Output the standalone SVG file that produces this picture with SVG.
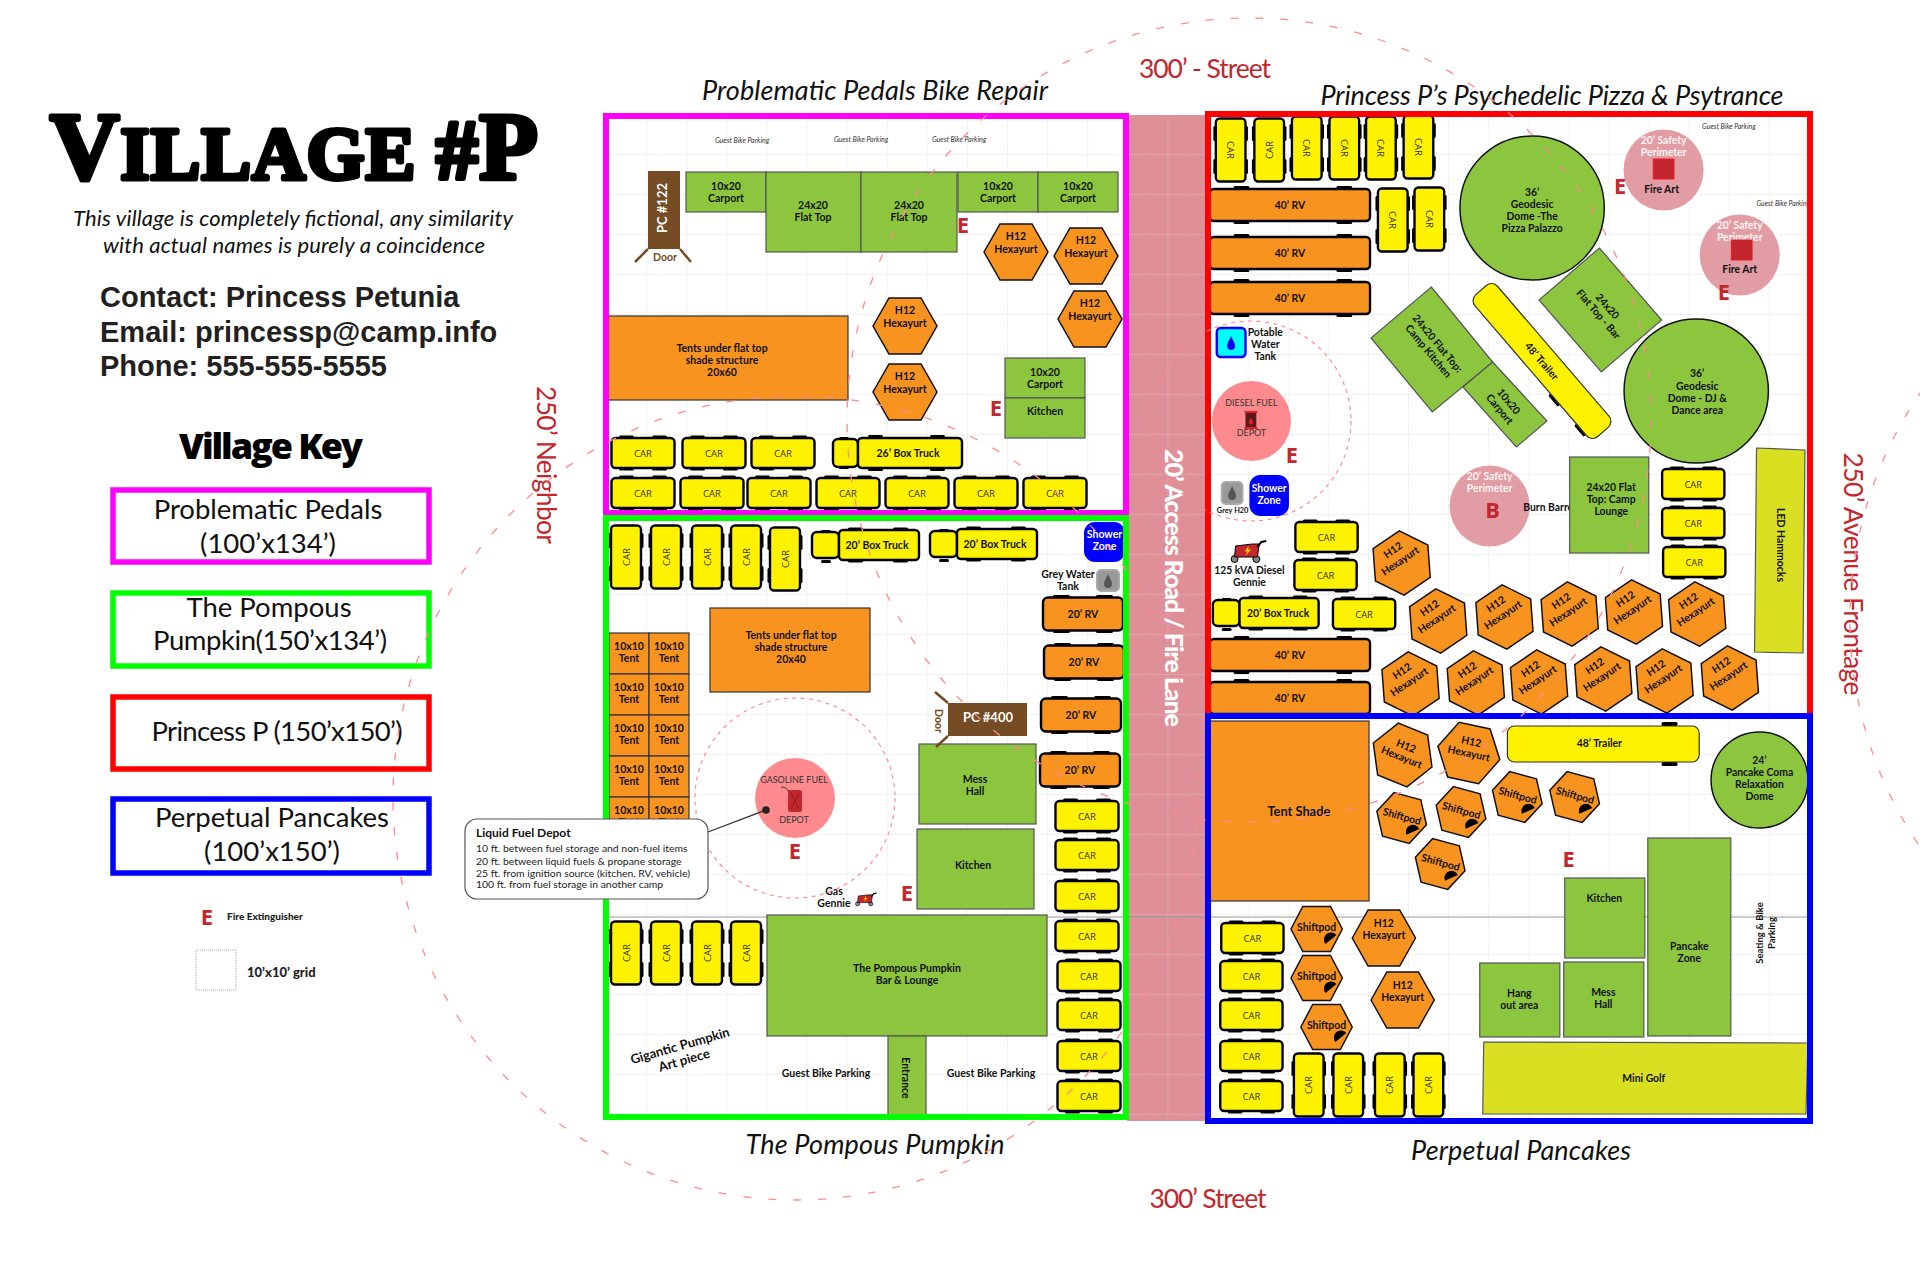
<svg xmlns="http://www.w3.org/2000/svg" width="1920" height="1273" viewBox="0 0 1920 1273">
<style>
text{font-family:Lato,"Open Sans","Liberation Sans",sans-serif}
.l{font-size:10.5px;font-weight:700;text-anchor:middle;dominant-baseline:central;fill:#111}
.car{font-size:9.5px;text-anchor:middle;dominant-baseline:central;fill:#333;font-family:"Open Sans",sans-serif}
.w{fill:#fff}
.p{fill:#fff;font-size:10.5px;text-anchor:middle;dominant-baseline:central;font-weight:700;opacity:.9}
.e{font-size:22px;font-weight:700;fill:#c1272d;text-anchor:middle;dominant-baseline:central;font-family:"Open Sans",sans-serif}
.t{font-size:27px;font-style:italic;text-anchor:middle;fill:#111}
.s{font-size:26.5px;fill:#c1272d;text-anchor:middle}
.k{font-size:27.5px;text-anchor:middle;fill:#111}
.c{font-family:"Liberation Sans",sans-serif;font-weight:700;font-size:29px;fill:#231f20}
.g{fill:#8cc63f;stroke:#555;stroke-width:1.2}
.o{fill:#f7931e;stroke:#333;stroke-width:1.2}
.ol{fill:#d9e021;stroke:#555;stroke-width:1.2}
.box{fill:none;stroke-width:6}
.kb{fill:none;stroke-width:5.5}
.tiny{font-size:7px;font-style:italic;text-anchor:middle;dominant-baseline:central;fill:#333}
.d{font-size:9px;text-anchor:middle;dominant-baseline:central;fill:#333}
.big{fill:none;stroke:#ff8a8d;stroke-width:1.3;stroke-dasharray:8 17}
.sm{fill:none;stroke:#ff8a8d;stroke-width:1.2;stroke-dasharray:4 4.5}
.z{fill:#0000ff}
.sh{fill:#df8f97}
.pm{fill:#e29ca3}
.dep{fill:#ff8a8d}
.ti{fill:#000}
.y{fill:#fff200;stroke:#000;stroke-width:2.4}
.r{fill:#f7931e;stroke:#000;stroke-width:2.4}
.br{fill:#754c24}
.brl{fill:none;stroke:#754c24;stroke-width:2.5}
.fu{font-size:10.4px;fill:#222}
</style>
<defs>
<pattern id="gridp" x="606" y="114" width="40.1" height="40" patternUnits="userSpaceOnUse"><path d="M0 0H40.1M0 0V40" fill="none" stroke="#d4d4d4" stroke-width="1" stroke-dasharray="1.5 1"/></pattern>
<g id="tc"><rect x="-24" y="-17.5" width="15" height="4" rx="1.5" class="ti"/><rect x="9" y="-17.5" width="15" height="4" rx="1.5" class="ti"/><rect x="-24" y="13.5" width="15" height="4" rx="1.5" class="ti"/><rect x="9" y="13.5" width="15" height="4" rx="1.5" class="ti"/><rect x="-31.5" y="-15" width="63" height="30" rx="4" class="y"/></g>
<use id="tv" href="#tc" transform="rotate(90)"/>
<g id="rv20"><rect x="-30" y="-19" width="17" height="4" rx="1.5" class="ti"/><rect x="13" y="-19" width="17" height="4" rx="1.5" class="ti"/><rect x="-30" y="15" width="17" height="4" rx="1.5" class="ti"/><rect x="13" y="15" width="17" height="4" rx="1.5" class="ti"/><rect x="-40" y="-16.5" width="80" height="33" rx="5" class="r"/></g>
<g id="rv40"><rect x="-57" y="-19" width="16" height="4" rx="1.5" class="ti"/><rect x="47" y="-19" width="16" height="4" rx="1.5" class="ti"/><rect x="-57" y="15" width="16" height="4" rx="1.5" class="ti"/><rect x="47" y="15" width="16" height="4" rx="1.5" class="ti"/><rect x="-81" y="-16" width="162" height="32" rx="4" class="r"/></g>
<g id="tr20"><rect x="-31" y="-17.5" width="15" height="4" rx="1.5" class="ti"/><rect x="14" y="-17.5" width="15" height="4" rx="1.5" class="ti"/><rect x="-31" y="13.5" width="15" height="4" rx="1.5" class="ti"/><rect x="14" y="13.5" width="15" height="4" rx="1.5" class="ti"/><rect x="-58" y="15" width="10" height="3" rx="1.5" class="ti"/><rect x="-58" y="-15" width="10" height="3" rx="1.5" class="ti"/><rect x="-67" y="-13" width="27" height="26" rx="5" class="y"/><rect x="-40" y="-15" width="80" height="30" rx="4" class="y"/></g>
<g id="tr26"><rect x="-42" y="-18" width="15" height="4" rx="1.5" class="ti"/><rect x="20" y="-18" width="15" height="4" rx="1.5" class="ti"/><rect x="-42" y="14" width="15" height="4" rx="1.5" class="ti"/><rect x="20" y="14" width="15" height="4" rx="1.5" class="ti"/><rect x="-71" y="12" width="10" height="4" rx="1.5" class="ti"/><rect x="-71" y="-16" width="10" height="4" rx="1.5" class="ti"/><rect x="-77" y="-14" width="25" height="28" rx="5" class="y"/><rect x="-52" y="-15" width="104" height="30" rx="4" class="y"/></g>
<polygon id="hex" points="-32,0 -16,-28 16,-28 32,0 16,28 -16,28" class="o" style="stroke:#111;stroke-width:1.5"/>
<g id="pod"><polygon points="-26,0 -14,-22.5 14,-22.5 26,0 14,22.5 -14,22.5" class="o" style="stroke:#111;stroke-width:1.5"/><path d="M9 15A6 6 0 1 1 20 6Z" fill="#000"/></g>
<path id="drop" d="M0-7C2-2 4 0 4 3A4 4 0 0 1-4 3C-4 0-2-2 0-7Z"/>
<g id="gen"><circle cx="-14" cy="8" r="3.5" fill="#888" stroke="#000"/><circle cx="8" cy="8" r="3.5" fill="#888" stroke="#000"/><path d="M-13-5L4-7 11-7 9 6-14 6Z" fill="#c1272d" stroke="#000"/><path d="M9-4L13-9 18-10" fill="none" stroke="#000" stroke-width="2"/><path d="M0-5L-4 1-1 0-3 5 3-2 0-1Z" fill="#fc0"/></g>
<g id="fa"><rect x="-10.5" y="-10" width="21" height="20" fill="#c1272d" stroke="#ed1c24"/></g>
</defs>
<rect width="1920" height="1273" fill="#fff"/>

<g id="base">
<rect class="sh" x="1127" y="115" width="78" height="1006"/>
<rect x="606" y="116" width="1204" height="1002" fill="url(#gridp)"/>
<path d="M606 917H1810" stroke="#999" stroke-width="1"/>
</g>

<g id="legend">
<text id="title" x="50" y="179" fill="#000" stroke="#000" stroke-width="5" stroke-linejoin="round" textLength="488" lengthAdjust="spacing" style="font-family:'Liberation Serif',serif;font-weight:700"><tspan font-size="96">V</tspan><tspan font-size="74">ILLAGE </tspan><tspan font-size="84">#</tspan><tspan font-size="96">P</tspan></text>
<text x="293" y="226" font-size="22" font-style="italic" text-anchor="middle" fill="#111" textLength="440">This village is completely fictional, any similarity</text>
<text x="294" y="253" font-size="22" font-style="italic" text-anchor="middle" fill="#111" textLength="382">with actual names is purely a coincidence</text>
<text class="c" x="100" y="307">Contact: Princess Petunia</text>
<text class="c" x="100" y="342">Email: princessp@camp.info</text>
<text class="c" x="100" y="376">Phone: 555-555-5555</text>
<text x="271" y="459" font-size="36" font-weight="900" text-anchor="middle" fill="#000" style="font-family:'Open Sans',sans-serif" textLength="184">Village Key</text>
<g id="key-pedals"><rect class="kb" x="113" y="490" width="316" height="72" stroke="#ff00ff"/><text class="k" x="268" y="519">Problematic Pedals</text><text class="k" x="268" y="553">(100’x134’)</text></g>
<g id="key-pumpkin"><rect class="kb" x="113" y="593" width="316" height="73" stroke="#00ff00"/><text class="k" x="269" y="617">The Pompous</text><text class="k" x="270" y="650" textLength="234">Pumpkin(150’x134’)</text></g>
<g id="key-princess"><rect class="kb" x="113" y="697" width="316" height="72" stroke="#ff0000"/><text class="k" x="277" y="741" textLength="251">Princess P (150’x150’)</text></g>
<g id="key-pancakes"><rect class="kb" x="113" y="799" width="316" height="74" stroke="#0000ff"/><text class="k" x="272" y="827">Perpetual Pancakes</text><text class="k" x="272" y="861">(100’x150’)</text></g>
<g id="key-ext"><text class="e" x="207" y="916">E</text><text x="227" y="920" font-size="10" font-weight="900" fill="#222">Fire Extinguisher</text></g>
<g id="key-grid"><rect x="196" y="950" width="40" height="40" fill="none" stroke="#aaa" stroke-dasharray="1 1"/><text x="247" y="977" font-size="13" font-weight="900" fill="#222">10’x10’ grid</text></g>
</g>

<g id="labels">
<text class="t" x="875" y="100" textLength="346">Problematic Pedals Bike Repair</text>
<text class="t" x="1552" y="105" textLength="463">Princess P’s Psychedelic Pizza &amp; Psytrance</text>
<text class="t" x="875" y="1154" textLength="259">The Pompous Pumpkin</text>
<text class="t" x="1521" y="1160" textLength="220">Perpetual Pancakes</text>
<text class="s" x="1205" y="78" textLength="132">300’ - Street</text>
<text class="s" x="1208" y="1208" textLength="117">300’ Street</text>
<text class="s" transform="translate(537 465) rotate(90)" textLength="158">250’ Neighbor</text>
<text class="s" transform="translate(1844 574) rotate(90)" textLength="243">250’ Avenue Frontage</text>
<text transform="translate(1165 588) rotate(90)" font-size="25" font-weight="900" fill="#fff" text-anchor="middle" textLength="278">20’ Access Road / Fire Lane</text>
</g>

<g id="pedals">
<text class="tiny" x="742" y="140">Guest Bike Parking</text><text class="tiny" x="861" y="139">Guest Bike Parking</text><text class="tiny" x="959" y="139">Guest Bike Parking</text>
<g id="pc122"><rect class="br" x="648" y="171" width="32" height="78"/><path class="brl" d="M648 249L635 262M680 249L691 262"/><text class="l w" transform="translate(662 208) rotate(-90)" style="font-size:13px;fill:#fff">PC #122</text><text class="l" x="665" y="257" style="fill:#754c24">Door</text></g>
<g id="carport1"><rect class="g" x="686" y="172" width="80" height="40"/><text class="l" x="726" y="186">10x20</text><text class="l" x="726" y="198">Carport</text></g>
<g id="flat1"><rect class="g" x="766" y="172" width="95" height="80"/><text class="l" x="813" y="205">24x20</text><text class="l" x="813" y="217">Flat Top</text></g>
<g id="flat2"><rect class="g" x="861" y="172" width="96" height="80"/><text class="l" x="909" y="205">24x20</text><text class="l" x="909" y="217">Flat Top</text></g>
<g id="carport2"><rect class="g" x="958" y="172" width="80" height="40"/><text class="l" x="998" y="186">10x20</text><text class="l" x="998" y="198">Carport</text></g>
<g id="carport3"><rect class="g" x="1038" y="172" width="80" height="40"/><text class="l" x="1078" y="186">10x20</text><text class="l" x="1078" y="198">Carport</text></g>
<text class="e" x="963" y="224">E</text>
<g id="hp1" transform="translate(1016 252)"><use href="#hex"/><text class="l" y="-16">H12</text><text class="l" y="-3">Hexayurt</text></g>
<g id="hp2" transform="translate(1086 256)"><use href="#hex"/><text class="l" y="-16">H12</text><text class="l" y="-3">Hexayurt</text></g>
<g id="hp3" transform="translate(1090 319)"><use href="#hex"/><text class="l" y="-16">H12</text><text class="l" y="-3">Hexayurt</text></g>
<g id="hp4" transform="translate(905 326)"><use href="#hex"/><text class="l" y="-16">H12</text><text class="l" y="-3">Hexayurt</text></g>
<g id="hp5" transform="translate(905 392)"><use href="#hex"/><text class="l" y="-16">H12</text><text class="l" y="-3">Hexayurt</text></g>
<g id="tents60"><rect class="o" x="607" y="316" width="241" height="84"/><text class="l" x="722" y="348">Tents under flat top</text><text class="l" x="722" y="360">shade structure</text><text class="l" x="722" y="372">20x60</text></g>
<g id="carport4"><rect class="g" x="1005" y="358" width="80" height="40"/><text class="l" x="1045" y="372">10x20</text><text class="l" x="1045" y="384">Carport</text></g>
<g id="kitchen1"><rect class="g" x="1005" y="398" width="80" height="40"/><text class="l" x="1045" y="411">Kitchen</text></g>
<text class="e" x="996" y="407">E</text>
<g id="cp1" transform="translate(643 453)"><use href="#tc"/><text class="car">CAR</text></g>
<g id="cp2" transform="translate(714 453)"><use href="#tc"/><text class="car">CAR</text></g>
<g id="cp3" transform="translate(783 453)"><use href="#tc"/><text class="car">CAR</text></g>
<g id="truck26" transform="translate(910 453)"><use href="#tr26"/><text class="l" x="-2">26’ Box Truck</text></g>
<g id="cp4" transform="translate(643 493)"><use href="#tc"/><text class="car">CAR</text></g>
<g id="cp5" transform="translate(712 493)"><use href="#tc"/><text class="car">CAR</text></g>
<g id="cp6" transform="translate(779 493)"><use href="#tc"/><text class="car">CAR</text></g>
<g id="cp7" transform="translate(848 493)"><use href="#tc"/><text class="car">CAR</text></g>
<g id="cp8" transform="translate(917 493)"><use href="#tc"/><text class="car">CAR</text></g>
<g id="cp9" transform="translate(986 493)"><use href="#tc"/><text class="car">CAR</text></g>
<g id="cp10" transform="translate(1055 493)"><use href="#tc"/><text class="car">CAR</text></g>
</g>

<g id="pumpkin">
<g id="cg1" transform="translate(626 557)"><use href="#tv"/><text class="car" transform="rotate(-90)">CAR</text></g>
<g id="cg2" transform="translate(666 557)"><use href="#tv"/><text class="car" transform="rotate(-90)">CAR</text></g>
<g id="cg3" transform="translate(707 557)"><use href="#tv"/><text class="car" transform="rotate(-90)">CAR</text></g>
<g id="cg4" transform="translate(746 557)"><use href="#tv"/><text class="car" transform="rotate(-90)">CAR</text></g>
<g id="cg5" transform="translate(785 559)"><use href="#tv"/><text class="car" transform="rotate(-90)">CAR</text></g>
<g id="truck1" transform="translate(879 545)"><use href="#tr20"/><text class="l" x="-2">20’ Box Truck</text></g>
<g id="truck2" transform="translate(997 544)"><use href="#tr20"/><text class="l" x="-2">20’ Box Truck</text></g>
<g id="shower1"><rect class="z" x="1084" y="522" width="41" height="40" rx="11"/><text class="l" x="1104.5" y="534" style="fill:#fff">Shower</text><text class="l" x="1104.5" y="546" style="fill:#fff">Zone</text></g>
<g id="grey1"><text class="l" x="1068" y="574">Grey Water</text><text class="l" x="1068" y="586">Tank</text><rect x="1097" y="570" width="22" height="21" rx="4" fill="#999" stroke="#aaa" stroke-width="2"/><use href="#drop" x="1108" y="581" fill="#555"/></g>
<g id="rv1" transform="translate(1083 614)"><use href="#rv20"/><text class="l">20’ RV</text></g>
<g id="rv2" transform="translate(1084 662)"><use href="#rv20"/><text class="l">20’ RV</text></g>
<g id="rv3" transform="translate(1081 715)"><use href="#rv20"/><text class="l">20’ RV</text></g>
<g id="rv4" transform="translate(1080 770)"><use href="#rv20"/><text class="l">20’ RV</text></g>
<g id="cg6" transform="translate(1087 816)"><use href="#tc"/><text class="car">CAR</text></g>
<g id="cg7" transform="translate(1087 855)"><use href="#tc"/><text class="car">CAR</text></g>
<g id="cg8" transform="translate(1087 896)"><use href="#tc"/><text class="car">CAR</text></g>
<g id="cg9" transform="translate(1087 936)"><use href="#tc"/><text class="car">CAR</text></g>
<g id="cg10" transform="translate(1089 976)"><use href="#tc"/><text class="car">CAR</text></g>
<g id="cg11" transform="translate(1089 1015)"><use href="#tc"/><text class="car">CAR</text></g>
<g id="cg12" transform="translate(1089 1056)"><use href="#tc"/><text class="car">CAR</text></g>
<g id="cg13" transform="translate(1089 1096)"><use href="#tc"/><text class="car">CAR</text></g>
<g id="tents40"><rect class="o" x="710" y="608" width="160" height="84"/><text class="l" x="791" y="635">Tents under flat top</text><text class="l" x="791" y="647">shade structure</text><text class="l" x="791" y="659">20x40</text></g>
<g id="t1"><rect class="o" x="609" y="633" width="40" height="41"/><text class="l" x="629" y="646">10x10</text><text class="l" x="629" y="658">Tent</text></g>
<g id="t2"><rect class="o" x="649" y="633" width="40" height="41"/><text class="l" x="669" y="646">10x10</text><text class="l" x="669" y="658">Tent</text></g>
<g id="t3"><rect class="o" x="609" y="674" width="40" height="41"/><text class="l" x="629" y="687">10x10</text><text class="l" x="629" y="699">Tent</text></g>
<g id="t4"><rect class="o" x="649" y="674" width="40" height="41"/><text class="l" x="669" y="687">10x10</text><text class="l" x="669" y="699">Tent</text></g>
<g id="t5"><rect class="o" x="609" y="715" width="40" height="41"/><text class="l" x="629" y="728">10x10</text><text class="l" x="629" y="740">Tent</text></g>
<g id="t6"><rect class="o" x="649" y="715" width="40" height="41"/><text class="l" x="669" y="728">10x10</text><text class="l" x="669" y="740">Tent</text></g>
<g id="t7"><rect class="o" x="609" y="756" width="40" height="41"/><text class="l" x="629" y="769">10x10</text><text class="l" x="629" y="781">Tent</text></g>
<g id="t8"><rect class="o" x="649" y="756" width="40" height="41"/><text class="l" x="669" y="769">10x10</text><text class="l" x="669" y="781">Tent</text></g>
<g id="t9"><rect class="o" x="609" y="797" width="40" height="41"/><text class="l" x="629" y="810">10x10</text><text class="l" x="629" y="822">Tent</text></g>
<g id="t10"><rect class="o" x="649" y="797" width="40" height="41"/><text class="l" x="669" y="810">10x10</text><text class="l" x="669" y="822">Tent</text></g>
<g id="gasdepot"><circle class="dep" cx="795" cy="798" r="40"/><text class="d" x="794" y="779">GASOLINE FUEL</text><text class="d" x="794" y="819">DEPOT</text><rect x="788" y="790" width="14" height="22" rx="2.5" fill="#c1272d"/><path d="M791 793L799 809M799 793L791 809" stroke="#8a1a1f" stroke-width="1"/><path d="M781 787Q787 787 789 792" fill="none" stroke="#333"/></g>
<text class="e" x="795" y="850">E</text>
<g id="mess1"><rect class="g" x="919" y="744" width="117" height="80"/><text class="l" x="975" y="779">Mess</text><text class="l" x="975" y="791">Hall</text></g>
<g id="kitchen2"><rect class="g" x="917" y="829" width="117" height="80"/><text class="l" x="973" y="865">Kitchen</text></g>
<g id="pc400"><rect class="br" x="948" y="703" width="79" height="33"/><path class="brl" d="M948 703L935 692M948 736L936 747"/><text class="l" x="988" y="717" style="font-size:13px;fill:#fff">PC #400</text><text class="l" transform="translate(939 721) rotate(90)" style="fill:#754c24">Door</text></g>
<text class="e" x="907" y="892">E</text>
<g id="gennie1"><text class="l" x="834" y="891">Gas</text><text class="l" x="834" y="903">Gennie</text><use href="#gen" transform="translate(866 899) scale(.6)"/></g>
<g id="bar"><rect class="g" x="767" y="915" width="280" height="121"/><text class="l" x="907" y="968">The Pompous Pumpkin</text><text class="l" x="907" y="980">Bar &amp; Lounge</text></g>
<g id="entrance"><rect class="g" x="888" y="1036" width="38" height="81"/><text class="l" transform="translate(906 1078) rotate(90)">Entrance</text></g>
<g id="cg14" transform="translate(626 953)"><use href="#tv"/><text class="car" transform="rotate(-90)">CAR</text></g>
<g id="cg15" transform="translate(666 953)"><use href="#tv"/><text class="car" transform="rotate(-90)">CAR</text></g>
<g id="cg16" transform="translate(707 953)"><use href="#tv"/><text class="car" transform="rotate(-90)">CAR</text></g>
<g id="cg17" transform="translate(746 953)"><use href="#tv"/><text class="car" transform="rotate(-90)">CAR</text></g>
<g id="art" transform="translate(682 1053) rotate(-16)"><text class="l" y="-8" style="font-size:13px">Gigantic Pumpkin</text><text class="l" y="7" style="font-size:13px">Art piece</text></g>
<text class="l" x="826" y="1073">Guest Bike Parking</text><text class="l" x="991" y="1073">Guest Bike Parking</text>
</g>

<g id="princess" transform="translate(1200 0) scale(.9885 1) translate(-1200 0)">
<g id="cr1" transform="translate(1231 150)"><use href="#tv"/><text class="car" transform="rotate(90)">CAR</text></g>
<g id="cr2" transform="translate(1270 150)"><use href="#tv"/><text class="car" transform="rotate(-90)">CAR</text></g>
<g id="cr3" transform="translate(1308 148)"><use href="#tv"/><text class="car" transform="rotate(90)">CAR</text></g>
<g id="cr4" transform="translate(1346 148)"><use href="#tv"/><text class="car" transform="rotate(90)">CAR</text></g>
<g id="cr5" transform="translate(1383 148)"><use href="#tv"/><text class="car" transform="rotate(90)">CAR</text></g>
<g id="cr6" transform="translate(1421 147)"><use href="#tv"/><text class="car" transform="rotate(90)">CAR</text></g>
<g id="cr7" transform="translate(1395 220)"><use href="#tv"/><text class="car" transform="rotate(90)">CAR</text></g>
<g id="cr8" transform="translate(1432 219)"><use href="#tv"/><text class="car" transform="rotate(90)">CAR</text></g>
<g id="rv5" transform="translate(1291 205)"><use href="#rv40"/><text class="l">40’ RV</text></g>
<g id="rv6" transform="translate(1291 253)"><use href="#rv40"/><text class="l">40’ RV</text></g>
<g id="rv7" transform="translate(1291 298)"><use href="#rv40"/><text class="l">40’ RV</text></g>
<g id="potable"><rect x="1217" y="328" width="29" height="29" rx="4" fill="#0ff" stroke="#00f" stroke-width="2.5"/><use href="#drop" x="1231.5" y="343" fill="#00f"/><text class="l" x="1266" y="332">Potable</text><text class="l" x="1266" y="344">Water</text><text class="l" x="1266" y="356">Tank</text></g>
<g id="dieseldepot"><circle class="dep" cx="1252" cy="421" r="40"/><text class="d" x="1252" y="402">DIESEL FUEL</text><rect x="1246" y="412" width="11" height="16" fill="#5a1a1a"/><rect x="1245" y="411" width="13" height="2" fill="#ed1c24"/><rect x="1245" y="427" width="13" height="2" fill="#ed1c24"/><use href="#drop" transform="translate(1251.5 421) scale(.5)" fill="#ed1c24"/><text class="d" x="1252" y="432">DEPOT</text></g>
<text class="e" x="1293" y="454">E</text>
<g id="dome1"><ellipse cx="1536" cy="208" rx="73" ry="72" fill="#8cc63f" stroke="#111" stroke-width="1.5"/><text class="l" x="1536" y="192">36’</text><text class="l" x="1536" y="204">Geodesic</text><text class="l" x="1536" y="216">Dome -The</text><text class="l" x="1536" y="228">Pizza Palazzo</text></g>
<g id="art1"><circle cx="1669" cy="170" r="40.5" class="pm"/><text class="p" x="1669" y="140">20’ Safety</text><text class="p" x="1669" y="152">Perimeter</text><use href="#fa" x="1669" y="169"/><text class="l" x="1667" y="189">Fire Art</text></g>
<text class="e" x="1625" y="185">E</text>
<g id="art2"><circle cx="1746" cy="255" r="40.5" class="pm"/><text class="p" x="1746" y="225">20’ Safety</text><text class="p" x="1746" y="237">Perimeter</text><use href="#fa" x="1748" y="250"/><text class="l" x="1746" y="269">Fire Art</text></g>
<text class="e" x="1730" y="291">E</text>
<text class="tiny" x="1735" y="126">Guest Bike Parking</text><text class="tiny" x="1790" y="203">Guest Bike Parking</text>
<g id="camp-kitchen"><polygon class="g" points="1434,287 1496,362 1435,412 1373,338"/><text class="l" transform="translate(1436 347) rotate(50)" y="-6">24x20 Flat Top:</text><text class="l" transform="translate(1436 347) rotate(50)" y="6">Camp Kitchen</text></g>
<g id="carport5"><polygon class="g" points="1496,362 1551,421 1520,447 1466,387"/><text class="l" transform="translate(1508 405) rotate(50)" y="-6">10x20</text><text class="l" transform="translate(1508 405) rotate(50)" y="6">Carport</text></g>
<g id="trailer1" transform="translate(1546 361) rotate(49)"><rect x="70" y="14" width="15" height="4" rx="1.5" class="ti"/><rect x="30" y="14" width="15" height="4" rx="1.5" class="ti"/><rect x="-94" y="-15" width="188" height="30" rx="8" fill="#fff200" stroke="#333" stroke-width="1.2"/><text class="l">48’ Trailer</text></g>
<g id="bar-top"><polygon class="g" points="1604,248 1667,320 1606,372 1543,300"/><text class="l" transform="translate(1608 310) rotate(49)" y="-6">24x20</text><text class="l" transform="translate(1608 310) rotate(49)" y="6">Flat Top - Bar</text></g>
<g id="dome2"><ellipse cx="1702" cy="391" rx="73" ry="72" fill="#8cc63f" stroke="#111" stroke-width="1.5"/><text class="l" x="1703" y="373">36’</text><text class="l" x="1703" y="386">Geodesic</text><text class="l" x="1703" y="398">Dome - DJ &amp;</text><text class="l" x="1703" y="410">Dance area</text></g>
<g id="hammocks"><polygon class="ol" points="1763,448 1812,450 1810,653 1761,652"/><text class="l" transform="translate(1788 545) rotate(90)">LED Hammocks</text></g>
<g id="grey2"><rect x="1222" y="482" width="21" height="22" rx="4" fill="#999" stroke="#aaa" stroke-width="2"/><use href="#drop" x="1232.5" y="493" fill="#555"/><text class="l" x="1233" y="510" style="font-size:7.5px">Grey H20</text></g>
<g id="shower2"><rect class="z" x="1250" y="475" width="40" height="41" rx="11"/><text class="l" x="1270" y="488" style="fill:#fff">Shower</text><text class="l" x="1270" y="500" style="fill:#fff">Zone</text></g>
<g id="gennie2"><use href="#gen" transform="translate(1249 551)"/><text class="l" x="1250" y="570">125 kVA Diesel</text><text class="l" x="1250" y="582">Gennie</text></g>
<g id="cr9" transform="translate(1328 537)"><use href="#tc"/><text class="car">CAR</text></g>
<g id="cr10" transform="translate(1327 575)"><use href="#tc"/><text class="car">CAR</text></g>
<g id="cr11" transform="translate(1366 614)"><use href="#tc"/><text class="car">CAR</text></g>
<g id="truck3" transform="translate(1280 613)"><use href="#tr20"/><text class="l" x="-1">20’ Box Truck</text></g>
<g id="rv8" transform="translate(1291 655)"><use href="#rv40"/><text class="l">40’ RV</text></g>
<g id="rv9" transform="translate(1291 698)"><use href="#rv40"/><text class="l">40’ RV</text></g>
<g id="hr1" transform="translate(1404 563) rotate(-34)"><use href="#hex"/><text class="l" y="-16">H12</text><text class="l" y="-3">Hexayurt</text></g>
<g id="hr2" transform="translate(1441 621) rotate(-34)"><use href="#hex"/><text class="l" y="-16">H12</text><text class="l" y="-3">Hexayurt</text></g>
<g id="hr3" transform="translate(1508 617) rotate(-34)"><use href="#hex"/><text class="l" y="-16">H12</text><text class="l" y="-3">Hexayurt</text></g>
<g id="hr4" transform="translate(1574 614) rotate(-34)"><use href="#hex"/><text class="l" y="-16">H12</text><text class="l" y="-3">Hexayurt</text></g>
<g id="hr5" transform="translate(1639 612) rotate(-34)"><use href="#hex"/><text class="l" y="-16">H12</text><text class="l" y="-3">Hexayurt</text></g>
<g id="hr6" transform="translate(1703 614) rotate(-34)"><use href="#hex"/><text class="l" y="-16">H12</text><text class="l" y="-3">Hexayurt</text></g>
<g id="hr7" transform="translate(1413 684) rotate(-34)"><use href="#hex"/><text class="l" y="-16">H12</text><text class="l" y="-3">Hexayurt</text></g>
<g id="hr8" transform="translate(1479 683) rotate(-34)"><use href="#hex"/><text class="l" y="-16">H12</text><text class="l" y="-3">Hexayurt</text></g>
<g id="hr9" transform="translate(1543 682) rotate(-34)"><use href="#hex"/><text class="l" y="-16">H12</text><text class="l" y="-3">Hexayurt</text></g>
<g id="hr10" transform="translate(1608 679) rotate(-34)"><use href="#hex"/><text class="l" y="-16">H12</text><text class="l" y="-3">Hexayurt</text></g>
<g id="hr11" transform="translate(1670 681) rotate(-34)"><use href="#hex"/><text class="l" y="-16">H12</text><text class="l" y="-3">Hexayurt</text></g>
<g id="hr12" transform="translate(1736 678) rotate(-34)"><use href="#hex"/><text class="l" y="-16">H12</text><text class="l" y="-3">Hexayurt</text></g>
<g id="burn"><circle cx="1493" cy="506" r="40.5" class="pm"/><text class="p" x="1493" y="476">20’ Safety</text><text class="p" x="1493" y="488">Perimeter</text><text class="e" x="1496" y="509">B</text><text x="1527" y="511" font-size="10.5" font-weight="700" fill="#111">Burn Barrel</text></g>
<g id="lounge"><rect class="g" x="1574" y="457" width="80" height="96"/><text class="l" x="1616" y="487">24x20 Flat</text><text class="l" x="1616" y="499">Top: Camp</text><text class="l" x="1616" y="511">Lounge</text></g>
<g id="cr12" transform="translate(1699 484)"><use href="#tc"/><text class="car">CAR</text></g>
<g id="cr13" transform="translate(1699 523)"><use href="#tc"/><text class="car">CAR</text></g>
<g id="cr14" transform="translate(1700 562)"><use href="#tc"/><text class="car">CAR</text></g>
</g>

<g id="pancakes" transform="translate(1200 0) scale(.9885 1) translate(-1200 0)">
<g id="tentshade"><rect class="o" x="1210" y="721" width="161" height="180"/><text class="l" x="1300" y="811" style="font-size:13px">Tent Shade</text></g>
<g id="hb1" transform="translate(1405 755) rotate(22)"><use href="#hex"/><text class="l" y="-10">H12</text><text class="l" y="2">Hexayurt</text></g>
<g id="hb2" transform="translate(1472 753) rotate(12)"><use href="#hex"/><text class="l" y="-12">H12</text><text class="l" y="0">Hexayurt</text></g>
<g id="trailer2"><rect x="1667" y="722" width="16" height="4" rx="1.5" class="ti"/><rect x="1667" y="762" width="16" height="4" rx="1.5" class="ti"/><rect x="1511" y="726" width="194" height="36" rx="7" fill="#fff200" stroke="#333" stroke-width="1.2"/><text class="l" x="1604" y="743">48’ Trailer</text></g>
<g id="dome3"><ellipse cx="1766" cy="780" rx="49" ry="48" fill="#8cc63f" stroke="#111" stroke-width="1.5"/><text class="l" x="1766" y="760">24’</text><text class="l" x="1766" y="772">Pancake Coma</text><text class="l" x="1766" y="784">Relaxation</text><text class="l" x="1766" y="796">Dome</text></g>
<g id="sp1" transform="translate(1404 818) rotate(15)"><use href="#pod"/><text class="l" y="-2">Shiftpod</text></g>
<g id="sp2" transform="translate(1464 812) rotate(15)"><use href="#pod"/><text class="l" y="-2">Shiftpod</text></g>
<g id="sp3" transform="translate(1521 797) rotate(15)"><use href="#pod"/><text class="l" y="-2">Shiftpod</text></g>
<g id="sp4" transform="translate(1579 797) rotate(15)"><use href="#pod"/><text class="l" y="-2">Shiftpod</text></g>
<g id="sp5" transform="translate(1443 864) rotate(15)"><use href="#pod"/><text class="l" y="-2">Shiftpod</text></g>
<g id="sp6" transform="translate(1318 929)"><use href="#pod"/><text class="l" y="-2">Shiftpod</text></g>
<g id="sp7" transform="translate(1318 978)"><use href="#pod"/><text class="l" y="-2">Shiftpod</text></g>
<g id="sp8" transform="translate(1328 1027)"><use href="#pod"/><text class="l" y="-2">Shiftpod</text></g>
<g id="hb3" transform="translate(1386 938)"><use href="#hex"/><text class="l" y="-15">H12</text><text class="l" y="-3">Hexayurt</text></g>
<g id="hb4" transform="translate(1405 1000)"><use href="#hex"/><text class="l" y="-15">H12</text><text class="l" y="-3">Hexayurt</text></g>
<g id="cb1" transform="translate(1253 938)"><use href="#tc"/><text class="car">CAR</text></g>
<g id="cb2" transform="translate(1252 976)"><use href="#tc"/><text class="car">CAR</text></g>
<g id="cb3" transform="translate(1252 1015)"><use href="#tc"/><text class="car">CAR</text></g>
<g id="cb4" transform="translate(1252 1056)"><use href="#tc"/><text class="car">CAR</text></g>
<g id="cb5" transform="translate(1252 1096)"><use href="#tc"/><text class="car">CAR</text></g>
<g id="cb6" transform="translate(1310 1085)"><use href="#tv"/><text class="car" transform="rotate(-90)">CAR</text></g>
<g id="cb7" transform="translate(1350 1085)"><use href="#tv"/><text class="car" transform="rotate(-90)">CAR</text></g>
<g id="cb8" transform="translate(1392 1085)"><use href="#tv"/><text class="car" transform="rotate(-90)">CAR</text></g>
<g id="cb9" transform="translate(1431 1085)"><use href="#tv"/><text class="car" transform="rotate(-90)">CAR</text></g>
<g id="kitchen3"><rect class="g" x="1569" y="878" width="81" height="80"/><text class="l" x="1609" y="898">Kitchen</text></g>
<g id="pancake-zone"><rect class="g" x="1653" y="838" width="84" height="198"/><text class="l" x="1695" y="946">Pancake</text><text class="l" x="1695" y="958">Zone</text></g>
<g id="hangout"><rect class="g" x="1483" y="963" width="81" height="74"/><text class="l" x="1523" y="993">Hang</text><text class="l" x="1523" y="1005">out area</text></g>
<g id="mess2"><rect class="g" x="1568" y="962" width="81" height="75"/><text class="l" x="1608" y="992">Mess</text><text class="l" x="1608" y="1004">Hall</text></g>
<g id="minigolf"><polygon class="ol" points="1487,1042 1815,1043 1813,1114 1486,1114"/><text class="l" x="1649" y="1078">Mini Golf</text></g>
<g id="seating"><text class="l" transform="translate(1766 933) rotate(-90)" style="font-size:9.5px">Seating &amp; Bike</text><text class="l" transform="translate(1778 933) rotate(-90)" style="font-size:9.5px">Parking</text></g>
<text class="e" x="1573" y="858">E</text>
</g>

<g id="borders">
<rect class="box" x="606" y="116" width="520" height="397" stroke="#ff00ff"/>
<rect class="box" x="606" y="518" width="520" height="599" stroke="#00ff00"/>
<rect class="box" x="1208" y="114" width="602" height="602" stroke="#ff0000"/>
<rect class="box" x="1208" y="716" width="602" height="405" stroke="#0000ff"/>
</g>

<g id="connectors">
<circle class="big" cx="795" cy="798" r="402"/>
<circle class="big" cx="1249" cy="420" r="402"/>
<circle class="big" cx="2252" cy="620" r="402"/>
<circle class="sm" cx="795" cy="798" r="100"/>
<circle class="sm" cx="1251" cy="421" r="100"/>
<path d="M708 832L766 810" stroke="#333" stroke-width="1.2"/>
<circle cx="766" cy="810" r="3.8" fill="#222"/>
</g>

<g id="callout">
<rect x="465" y="819" width="243" height="80" rx="12" fill="#fff" stroke="#555" stroke-width="1.2"/>
<text x="476" y="837" font-size="12" font-weight="700" fill="#111">Liquid Fuel Depot</text>
<text class="fu" x="476" y="852">10 ft. between fuel storage and non-fuel items</text>
<text class="fu" x="476" y="865">20 ft. between liquid fuels &amp; propane storage</text>
<text class="fu" x="476" y="877">25 ft. from ignition source (kitchen, RV, vehicle)</text>
<text class="fu" x="476" y="888">100 ft. from fuel storage in another camp</text>
</g>
</svg>
